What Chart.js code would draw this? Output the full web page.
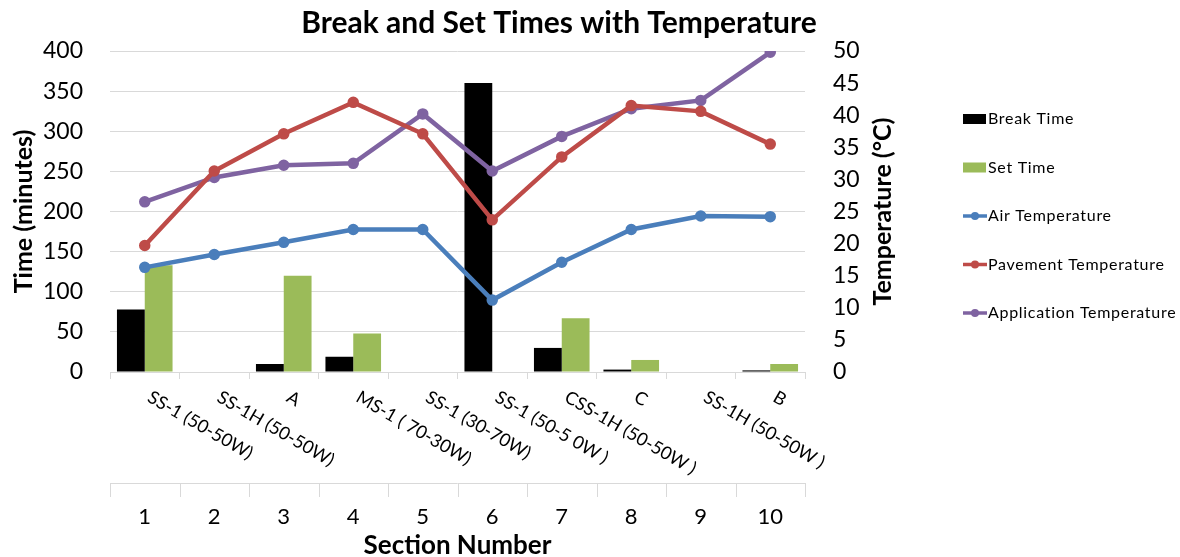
<!DOCTYPE html>
<html><head><meta charset="utf-8">
<script src="https://cdn.jsdelivr.net/npm/chart.js@4"></script>
<style>html,body{margin:0;padding:0;background:#fff;}</style>
</head><body>
<canvas id="c" width="1180" height="557"></canvas>
<script>
const chartTitle = 'Break and Set Times with Temperature';
const xAxisTitle = 'Section Number';
const leftAxisTitle = 'Time (minutes)';
const rightAxisTitle = 'Temperature (°C)';
const sectionNumbers = ['1', '2', '3', '4', '5', '6', '7', '8', '9', '10'];
const sectionLabels = ['SS-1 (50-50W)', 'SS-1H (50-50W)', 'A', 'MS-1 ( 70-30W)', 'SS-1 (30-70W)', 'SS-1 (50-5 0W )', 'CSS-1H (50-50W )', 'C', 'SS-1H (50-50W )', 'B'];
const breakTime = [78, 0, 10, 19, 0, 360, 30, 3, 0, 2];
const setTime = [133, 0, 120, 48, 0, 0, 67, 15, 0, 10];
const airTemp = [16.3, 18.3, 20.2, 22.2, 22.2, 11.2, 17.1, 22.2, 24.3, 24.2];
const pavementTemp = [19.7, 31.3, 37.1, 42.0, 37.1, 23.7, 33.5, 41.5, 40.6, 35.5];
const applicationTemp = [26.5, 30.3, 32.2, 32.5, 40.2, 31.3, 36.7, 41.0, 42.3, 49.8];

const FONT = 'Lato, "Open Sans", sans-serif';
const GRID = '#d9d9d9';

const decor = {
  id: 'decor',
  afterDraw(chart) {
    const { ctx, chartArea, scales: { x } } = chart;
    ctx.save();
    // chart title
    ctx.fillStyle = '#000';
    ctx.font = `bold 30px ${FONT}`;
    ctx.textAlign = 'center';
    ctx.textBaseline = 'middle';
    ctx.fillText(chartTitle, 559, 23);
    // right axis title (reads bottom to top)
    ctx.save();
    ctx.translate(883, (chartArea.top + chartArea.bottom) / 2);
    ctx.rotate(-Math.PI / 2);
    ctx.font = `bold 25px ${FONT}`;
    ctx.fillText(rightAxisTitle, 0, 0);
    ctx.restore();
    // rotated inner-level category labels
    ctx.font = `18px ${FONT}`;
    ctx.textAlign = 'left';
    ctx.textBaseline = 'top';
    sectionLabels.forEach((lab, i) => {
      const px = x.getPixelForValue(i);
      ctx.save();
      ctx.translate(px + 9, chartArea.bottom + 16);
      ctx.rotate(Math.PI / 6);
      ctx.fillText(lab, 0, 0);
      ctx.restore();
    });
    // second-level separator line + ticks
    const half = (x.getPixelForValue(1) - x.getPixelForValue(0)) / 2;
    const yL = chartArea.bottom + 111;
    ctx.strokeStyle = GRID;
    ctx.lineWidth = 1;
    ctx.beginPath();
    ctx.moveTo(chartArea.left, yL + 0.5);
    ctx.lineTo(chartArea.right, yL + 0.5);
    for (let i = 0; i <= sectionNumbers.length; i++) {
      const bx = Math.round(x.getPixelForValue(0) - half + i * 2 * half) + 0.5;
      ctx.moveTo(bx, yL);
      ctx.lineTo(bx, yL + 14);
    }
    ctx.stroke();
    // legend
    const lx = 963, ly0 = 119, step = 48.5;
    ctx.font = `16px ${FONT}`;
    ctx.letterSpacing = '0.7px';
    ctx.textBaseline = 'middle';
    chart.data.datasets.forEach((ds, i) => {
      const y = ly0 + i * step;
      if (ds.type === 'bar') {
        ctx.fillStyle = ds.backgroundColor;
        ctx.fillRect(lx, y - 5, 23, 10);
      } else {
        ctx.strokeStyle = ds.borderColor;
        ctx.lineWidth = 3.5;
        ctx.beginPath();
        ctx.moveTo(lx, y);
        ctx.lineTo(lx + 24, y);
        ctx.stroke();
        ctx.fillStyle = ds.borderColor;
        ctx.beginPath();
        ctx.arc(lx + 12, y, 4, 0, Math.PI * 2);
        ctx.fill();
      }
      ctx.fillStyle = '#000';
      ctx.fillText(ds.label, lx + 25, y);
    });
    ctx.restore();
  }
};

const lineStyle = (color) => ({
  type: 'line', borderColor: color, backgroundColor: color, pointBackgroundColor: color,
  pointBorderColor: color, borderWidth: 4.5, pointRadius: 3.5, tension: 0, yAxisID: 'y1', order: 1
});

new Chart(document.getElementById('c'), {
  type: 'bar',
  data: {
    labels: sectionNumbers,
    datasets: [
      { type: 'bar', label: 'Break Time', data: breakTime, backgroundColor: '#000000', yAxisID: 'y', order: 2, categoryPercentage: 0.8, barPercentage: 1.0 },
      { type: 'bar', label: 'Set Time', data: setTime, backgroundColor: '#9BBB59', yAxisID: 'y', order: 2, categoryPercentage: 0.8, barPercentage: 1.0 },
      Object.assign({ label: 'Air Temperature', data: airTemp }, lineStyle('#4A7EBB')),
      Object.assign({ label: 'Pavement Temperature', data: pavementTemp }, lineStyle('#BE4B48')),
      Object.assign({ label: 'Application Temperature', data: applicationTemp }, lineStyle('#7F63A1'))
    ]
  },
  options: {
    responsive: false, animation: false, devicePixelRatio: 1,
    layout: { padding: { left: 0, right: 275, top: 51, bottom: 0 } },
    plugins: { legend: { display: false }, title: { display: false }, tooltip: { enabled: false } },
    scales: {
      x: {
        grid: { offset: true, drawOnChartArea: false, drawTicks: true, tickLength: 7, color: GRID },
        border: { color: GRID },
        ticks: { font: { family: FONT, size: 22 }, color: '#000', padding: 125, maxRotation: 0, autoSkip: false },
        title: { display: true, text: xAxisTitle, color: '#000', font: { family: FONT, size: 26, weight: 'bold', lineHeight: 1 }, padding: { top: 0, bottom: -2 } },
        afterFit(s) { s.height = 185; }
      },
      y: {
        position: 'left', min: 0, max: 400,
        ticks: { stepSize: 50, font: { family: FONT, size: 23 }, color: '#000', padding: 27 },
        grid: { color: GRID, drawTicks: false },
        border: { display: false },
        title: { display: true, text: leftAxisTitle, color: '#000', font: { family: FONT, size: 25, weight: 'bold', lineHeight: 1 }, padding: { top: 11, bottom: 0 } },
        afterFit(s) { s.width = 110; }
      },
      y1: {
        position: 'right', min: 0, max: 50,
        ticks: { stepSize: 5, font: { family: FONT, size: 23 }, color: '#000', padding: 28 },
        grid: { drawOnChartArea: false, drawTicks: false },
        border: { display: false },
        afterFit(s) { s.width = 100; }
      }
    }
  },
  plugins: [decor]
});
</script>
</body></html>
